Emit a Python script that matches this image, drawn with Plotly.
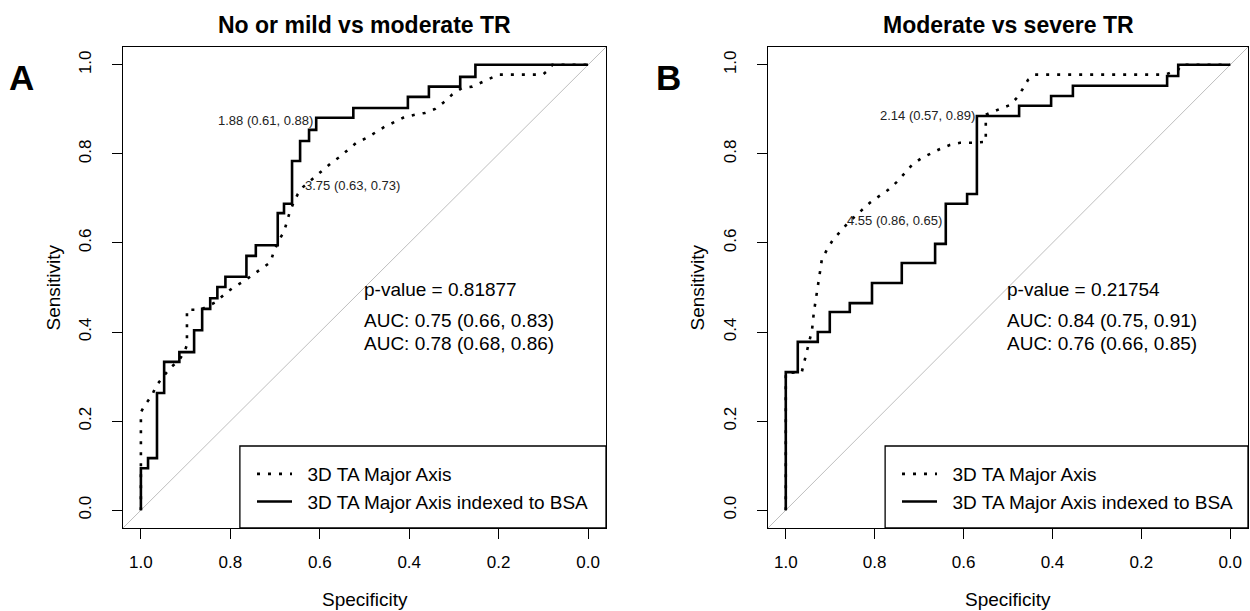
import plotly.graph_objects as go

# ---------------- data ----------------
tick_vals = [0.0, 0.2, 0.4, 0.6, 0.8, 1.0]
tick_text = ["0.0", "0.2", "0.4", "0.6", "0.8", "1.0"]

panel_titles = ["No or mild vs moderate TR", "Moderate vs severe TR"]
panel_letters = ["A", "B"]
series_names = ["3D TA Major Axis", "3D TA Major Axis indexed to BSA"]

# Panel A - 3D TA Major Axis (dotted)
A_TA_spec = [1.0, 1.0, 0.991, 0.975, 0.966, 0.950, 0.935, 0.914, 0.901, 0.897, 0.897, 0.867, 0.833,
             0.815, 0.795, 0.773, 0.750, 0.728, 0.710, 0.703, 0.691, 0.680, 0.673, 0.667, 0.658,
             0.649, 0.637, 0.619, 0.592, 0.574, 0.556, 0.536, 0.518, 0.495, 0.473, 0.455, 0.432,
             0.410, 0.387, 0.365, 0.342, 0.324, 0.304, 0.282, 0.259, 0.236, 0.214, 0.200, 0.101,
             0.086, 0.080, 0.0]
A_TA_sens = [0.0, 0.22, 0.236, 0.258, 0.279, 0.299, 0.319, 0.337, 0.360, 0.371, 0.450, 0.450, 0.467,
             0.483, 0.499, 0.512, 0.528, 0.544, 0.557, 0.580, 0.607, 0.625, 0.647, 0.670, 0.692,
             0.710, 0.726, 0.742, 0.764, 0.780, 0.793, 0.809, 0.825, 0.836, 0.849, 0.861, 0.872,
             0.883, 0.888, 0.892, 0.901, 0.915, 0.933, 0.948, 0.951, 0.962, 0.973, 0.978, 0.978,
             0.991, 1.0, 1.0]

# Panel A - indexed to BSA (solid, stepped)
A_BSA_spec = [1.0, 1.0, 0.984, 0.964, 0.948, 0.914, 0.881, 0.863, 0.845, 0.829, 0.811, 0.764, 0.743,
              0.694, 0.680, 0.662, 0.644, 0.624, 0.608, 0.525, 0.403, 0.356, 0.286, 0.252, 0.0]
A_BSA_sens = [0.0, 0.094, 0.117, 0.263, 0.333, 0.355, 0.404, 0.452, 0.476, 0.501, 0.524, 0.571, 0.595,
              0.667, 0.688, 0.784, 0.829, 0.854, 0.881, 0.903, 0.928, 0.951, 0.973, 1.0, 1.0]

# Panel B - 3D TA Major Axis (dotted)
B_TA_spec = [1.0, 1.0, 0.964, 0.957, 0.950, 0.941, 0.937, 0.932, 0.928, 0.923, 0.919, 0.908, 0.894,
             0.878, 0.860, 0.833, 0.811, 0.793, 0.770, 0.750, 0.732, 0.716, 0.694, 0.676, 0.653,
             0.631, 0.608, 0.579, 0.550, 0.550, 0.541, 0.518, 0.495, 0.480, 0.468, 0.455, 0.439,
             0.146, 0.117, 0.110, 0.0]
B_TA_sens = [0.0, 0.308, 0.310, 0.337, 0.364, 0.404, 0.443, 0.479, 0.510, 0.535, 0.562, 0.584, 0.607,
             0.625, 0.645, 0.670, 0.690, 0.703, 0.719, 0.737, 0.757, 0.775, 0.791, 0.800, 0.811,
             0.820, 0.825, 0.825, 0.827, 0.888, 0.892, 0.901, 0.910, 0.926, 0.944, 0.966, 0.978,
             0.978, 0.989, 1.0, 1.0]

# Panel B - indexed to BSA (solid, stepped)
B_BSA_spec = [1.0, 1.0, 0.973, 0.928, 0.901, 0.856, 0.806, 0.739, 0.664, 0.640, 0.592, 0.570, 0.475,
              0.403, 0.354, 0.142, 0.117, 0.0]
B_BSA_sens = [0.0, 0.310, 0.378, 0.400, 0.445, 0.465, 0.510, 0.555, 0.598, 0.688, 0.710, 0.885, 0.908,
              0.930, 0.953, 0.975, 1.0, 1.0]

# Best thresholds: (threshold, specificity, sensitivity)
A_thr_TA = (3.75, 0.63, 0.73)
A_thr_BSA = (1.88, 0.61, 0.88)
B_thr_TA = (4.55, 0.86, 0.65)
B_thr_BSA = (2.14, 0.57, 0.89)

p_values = ["0.81877", "0.21754"]
A_auc = [("0.75", "0.66", "0.83"), ("0.78", "0.68", "0.86")]
B_auc = [("0.84", "0.75", "0.91"), ("0.76", "0.66", "0.85")]

# ---------------- figure ----------------
W, H = 1250, 611
FONT = "Liberation Sans, Arial, sans-serif"
PAD = "\u00a0\u00a0"  # small gap between legend sample and its label

fig = go.Figure()

dot_line = dict(color="black", width=2.6, dash="3px,8px")
solid_line = dict(color="black", width=2.6)

fig.add_trace(go.Scatter(x=A_TA_spec, y=A_TA_sens, mode="lines", line=dot_line,
                         name=PAD + series_names[0], xaxis="x", yaxis="y", legend="legend"))
fig.add_trace(go.Scatter(x=A_BSA_spec, y=A_BSA_sens, mode="lines", line=solid_line, line_shape="hv",
                         name=PAD + series_names[1], xaxis="x", yaxis="y", legend="legend"))
fig.add_trace(go.Scatter(x=B_TA_spec, y=B_TA_sens, mode="lines", line=dot_line,
                         name=PAD + series_names[0], xaxis="x2", yaxis="y2", legend="legend2"))
fig.add_trace(go.Scatter(x=B_BSA_spec, y=B_BSA_sens, mode="lines", line=solid_line, line_shape="hv",
                         name=PAD + series_names[1], xaxis="x2", yaxis="y2", legend="legend2"))


def px_x(p):
    return p / W


def px_y(p):
    return (H - p) / H


ydom = [px_y(528), px_y(47)]
xdomA = [px_x(123), px_x(606)]
xdomB = [px_x(768), px_x(1248)]

axis_common = dict(
    showgrid=False, zeroline=False, showline=True, mirror=True, linecolor="black", linewidth=1.3,
    ticks="outside", ticklen=10, tickwidth=1.3, tickcolor="black",
    tickvals=tick_vals, ticktext=tick_text,
    tickfont=dict(family=FONT, size=17, color="black"),
)

legend_common = dict(xanchor="left", yanchor="top", bgcolor="rgba(0,0,0,0)", borderwidth=0,
                     font=dict(family=FONT, size=19), tracegroupgap=0, itemwidth=35)

fig.update_layout(
    width=W, height=H,
    margin=dict(l=0, r=0, t=0, b=0),
    paper_bgcolor="white", plot_bgcolor="white",
    font=dict(family=FONT, color="black"),
    xaxis=dict(domain=xdomA, range=[1.04, -0.04], anchor="y", ticklabelstandoff=8, **axis_common),
    yaxis=dict(domain=ydom, range=[-0.04, 1.04], anchor="x", tickangle=-90, ticklabelstandoff=14,
               **axis_common),
    xaxis2=dict(domain=xdomB, range=[1.04, -0.04], anchor="y2", ticklabelstandoff=8, **axis_common),
    yaxis2=dict(domain=ydom, range=[-0.04, 1.04], anchor="x2", tickangle=-90, ticklabelstandoff=14,
                **axis_common),
    legend=dict(x=px_x(252), y=px_y(455), **legend_common),
    legend2=dict(x=px_x(897), y=px_y(455), **legend_common),
    showlegend=True,
)

shapes = []
for xr, yr, lx0 in [("x", "y", 0.242), ("x2", "y2", 0.244)]:
    # chance diagonal
    shapes.append(dict(type="line", xref=f"{xr} domain", yref=f"{yr} domain", x0=0, y0=0, x1=1, y1=1,
                       line=dict(color="#BEBEBE", width=1), layer="below"))
    # legend frame
    shapes.append(dict(type="rect", xref=f"{xr} domain", yref=f"{yr} domain", x0=lx0, y0=0, x1=1,
                       y1=0.1705, line=dict(color="black", width=1.3), fillcolor="rgba(0,0,0,0)"))
fig.update_layout(shapes=shapes)

ann = []
centers = [(123 + 606) / 2, (768 + 1248) / 2]
for i, (cx, xr, yr) in enumerate(zip(centers, ["x", "x2"], ["y", "y2"])):
    ann.append(dict(text=f"<b>{panel_titles[i]}</b>", x=px_x(cx), y=px_y(25), xref="paper", yref="paper",
                    showarrow=False, font=dict(size=23, family=FONT), xanchor="center", yanchor="middle"))
    ann.append(dict(text="Specificity", x=px_x(cx), y=px_y(599), xref="paper", yref="paper",
                    showarrow=False, font=dict(size=19, family=FONT), xanchor="center", yanchor="middle"))
    sx = 53 if i == 0 else 697
    ann.append(dict(text="Sensitivity", x=px_x(sx), y=px_y(287.5), xref="paper", yref="paper",
                    textangle=-90, showarrow=False, font=dict(size=19, family=FONT),
                    xanchor="center", yanchor="middle"))
    lx = 21 if i == 0 else 668
    ann.append(dict(text=f"<b>{panel_letters[i]}</b>", x=px_x(lx), y=px_y(77), xref="paper", yref="paper",
                    showarrow=False, font=dict(size=35, family=FONT), xanchor="center", yanchor="middle"))
    # p-value / AUC text
    aucs = A_auc if i == 0 else B_auc
    ann.append(dict(text=f"p-value = {p_values[i]}", x=0.5, y=0.495, xref=xr, yref=yr, showarrow=False,
                    font=dict(size=19, family=FONT), xanchor="left", yanchor="middle", xshift=-3))
    for k, (a, lo, hi) in enumerate(aucs):
        ann.append(dict(text=f"AUC: {a} ({lo}, {hi})", x=0.5, y=[0.427, 0.375][k], xref=xr, yref=yr,
                        showarrow=False, font=dict(size=19, family=FONT), xanchor="left",
                        yanchor="middle", xshift=-3))
    # threshold labels
    thr_ta = A_thr_TA if i == 0 else B_thr_TA
    thr_bsa = A_thr_BSA if i == 0 else B_thr_BSA
    t, s, e = thr_ta
    ann.append(dict(text=f"{t:.2f} ({s:.2f}, {e:.2f})", x=s, y=e, xref=xr, yref=yr, showarrow=False,
                    font=dict(size=13, family=FONT, color="#222"), xanchor="left", yanchor="middle",
                    xshift=-3))
    t, s, e = thr_bsa
    ann.append(dict(text=f"{t:.2f} ({s:.2f}, {e:.2f})", x=s, y=e, xref=xr, yref=yr, showarrow=False,
                    font=dict(size=13, family=FONT, color="#222"), xanchor="right", yanchor="middle",
                    yshift=-2))
fig.update_layout(annotations=ann)

fig.write_html("out.html", config={"displayModeBar": False},
               post_script="document.body.style.margin='0px';")
